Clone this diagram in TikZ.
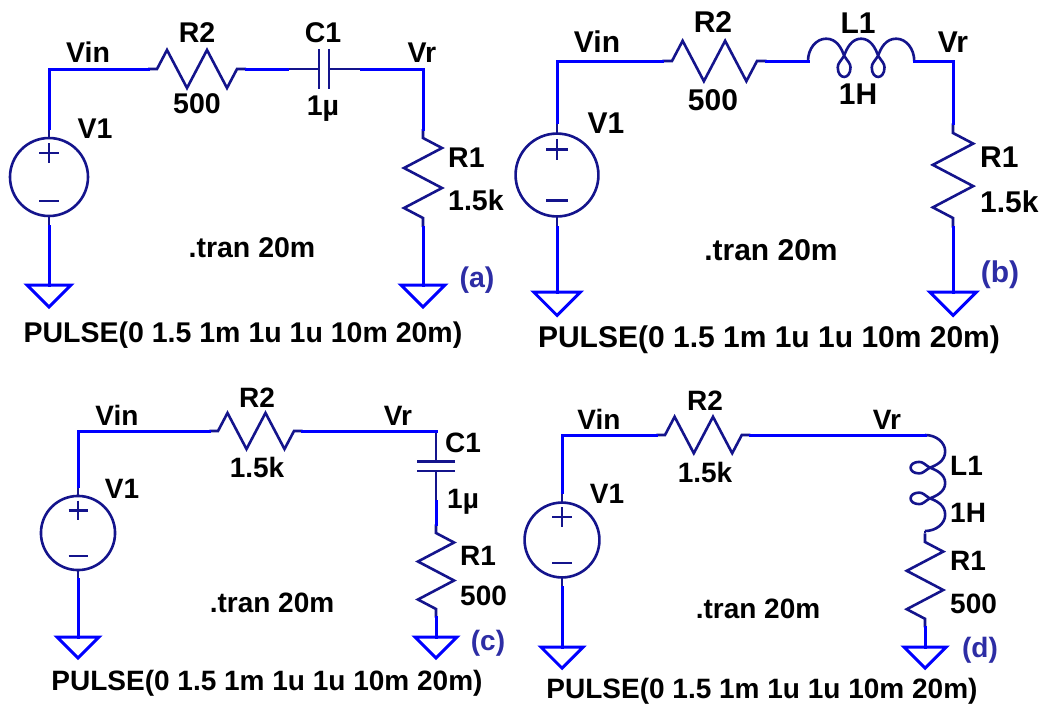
\documentclass[tikz,border=0pt]{standalone}
\usepackage{fontspec}
\setmainfont{Liberation Sans}
\usetikzlibrary{positioning}
\definecolor{wireblue}{RGB}{0,0,255}
\definecolor{navy}{RGB}{20,20,140}
\definecolor{tagblue}{RGB}{45,45,165}

\begin{document}
\begin{tikzpicture}[
    x=1pt, y=-1pt,
    % line styles
    wireline/.style = {draw=wireblue, line width=3pt, line cap=rect},
    partline/.style = {draw=navy, line width=2.6pt},
    % text styles
    txta/.style = {inner sep=0pt, text depth=0pt, text height=20.4pt,
      font=\bfseries\fontsize{28.5}{30}\selectfont},
    txtb/.style = {inner sep=0pt, text depth=0pt, text height=21.5pt,
      font=\bfseries\fontsize{30}{32}\selectfont},
    txtc/.style = {inner sep=0pt, text depth=0pt, text height=20pt,
      font=\bfseries\fontsize{28}{30}\selectfont},
    tag/.style = {text=tagblue},
    % symbols
    ressym/.pic = {
      \draw[partline] (-9,0) -- (0,0) -- (10,-19) -- (30,19) -- (50,-19)
        -- (70,19) -- (80,0) -- (89,0);
      \coordinate (-in) at (-9,0);
      \coordinate (-out) at (89,0);
    },
    capsym/.pic = {
      \draw[partline] (0,0) -- (32,0) (42,0) -- (74,0)
        (32,-20) -- (32,20) (42,-20) -- (42,20);
      \coordinate (-in) at (0,0);
      \coordinate (-out) at (74,0);
    },
    indsym/.pic = {
      \draw[partline] (0,0) .. controls (0,-11.5) and (7.6,-21) .. (17,-21)
        .. controls (27,-21) and (31.5,-12) .. (34,-5)
        .. controls (37,0) and (40,2) .. (40,6)
        .. controls (40,12) and (37,15) .. (34,15)
        .. controls (31,15) and (28,12) .. (28,6)
        .. controls (28,2) and (31,0) .. (34,-5)
        .. controls (36.5,-12) and (41,-21) .. (50,-21)
        .. controls (59,-21) and (63.5,-12) .. (66,-5)
        .. controls (69,0) and (72,2) .. (72,6)
        .. controls (72,12) and (69,15) .. (66,15)
        .. controls (63,15) and (60,12) .. (60,6)
        .. controls (60,2) and (63,0) .. (66,-5)
        .. controls (68.5,-12) and (73,-21) .. (83,-21)
        .. controls (92.4,-21) and (100,-11.5) .. (100,0);
      \coordinate (-in) at (0,0);
      \coordinate (-out) at (100,0);
    },
    srcsym/.pic = {
      \draw[partline] (0,0) circle[radius=39];
      \draw[partline] (0,-49) -- (0,-39) (0,39) -- (0,49);
      \draw[partline] (-10,-24) -- (10,-24) (0,-34) -- (0,-14)
        (-10,24) -- (10,24);
      \coordinate (-p) at (0,-49);
      \coordinate (-n) at (0,49);
    },
    gndsym/.pic = {
      \draw[wireline, line cap=butt] (-22,0) -- (22,0) -- (0,22) -- cycle;
      \coordinate (-top) at (0,0);
    }
  ]
  \useasboundingbox[fill=white] (0,0) rectangle (1044,705);

  % --- (a) R2 + C1 + R1
  \pic (Va) at (49,177) {srcsym};
  \pic (R2a) at (157,69) {ressym};
  \pic (C1a) at (287,69) {capsym};
  \pic[rotate=-90] (R1a) at (423,138) {ressym};
  \pic (GLa) at (49,285) {gndsym};
  \pic (GRa) at (423,285) {gndsym};
  \draw[wireline] (Va-p) |- (R2a-in);
  \draw[wireline] (R2a-out) -- (C1a-in);
  \draw[wireline] (C1a-out) -| (R1a-in);
  \draw[wireline] (R1a-out) -- (GRa-top);
  \draw[wireline] (Va-n) -- (GLa-top);

  \node[txta] (a-vin) at (88,52) {Vin};
  \node[txta] (a-r2) at (197,32) {R2};
  \node[txta] (a-r2val) at (197,103) {500};
  \node[txta] (a-c1) at (323,32) {C1};
  \node[txta] (a-c1val) at (323,105) {1µ};
  \node[txta] (a-vr) at (422,52) {Vr};
  \node[txta] (a-v1) at (95,128) {V1};
  \node[txta, anchor=west] (a-r1) at (448,157) {R1};
  \node[txta, anchor=west] (a-r1val) at (448,200) {1.5k};
  \node[txta] (a-tran) at (252,247) {.tran 20m};
  \node[txta, tag] (a-tag) at (477,277) {(a)};
  \node[txta] (a-pulse) at (243,332) {PULSE(0 1.5 1m 1u 1u 10m 20m)};

  % --- (b) R2 + L1 + R1
  \pic[scale=1.0625] (Vb) at (557,175) {srcsym};
  \pic[scale=1.0625] (R2b) at (672,61) {ressym};
  \pic[scale=1.0625] (L1b) at (808,61) {indsym};
  \pic[rotate=-90, scale=1.0625] (R1b) at (953,133) {ressym};
  \pic[scale=1.0625] (GLb) at (557,292) {gndsym};
  \pic[scale=1.0625] (GRb) at (953,292) {gndsym};
  \draw[wireline] (Vb-p) |- (R2b-in);
  \draw[wireline] (R2b-out) -- (L1b-in);
  \draw[wireline] (L1b-out) -| (R1b-in);
  \draw[wireline] (R1b-out) -- (GRb-top);
  \draw[wireline] (Vb-n) -- (GLb-top);

  \node[txtb] (b-vin) at (597,42) {Vin};
  \node[txtb] (b-r2) at (713,22) {R2};
  \node[txtb] (b-r2val) at (713,100) {500};
  \node[txtb] (b-l1) at (858,23) {L1};
  \node[txtb] (b-l1val) at (858,94) {1H};
  \node[txtb] (b-vr) at (953,42) {Vr};
  \node[txtb] (b-v1) at (606,123) {V1};
  \node[txtb, anchor=west] (b-r1) at (980,157) {R1};
  \node[txtb, anchor=west] (b-r1val) at (980,202) {1.5k};
  \node[txtb] (b-tran) at (771,250) {.tran 20m};
  \node[txtb, tag] (b-tag) at (1000,272) {(b)};
  \node[txtb] (b-pulse) at (769,337) {PULSE(0 1.5 1m 1u 1u 10m 20m)};

  % --- (c) R2 + C1 + R1, C1 in the right leg
  \pic[scale=.95] (Vc) at (78,533) {srcsym};
  \pic[scale=.95] (R2c) at (218,431) {ressym};
  \pic[rotate=-90, scale=.95] (C1c) at (436,431) {capsym};
  \pic[rotate=-90, scale=.95] (R1c) at (436,533) {ressym};
  \pic[scale=.95] (GLc) at (78,637) {gndsym};
  \pic[scale=.95] (GRc) at (436,637) {gndsym};
  \draw[wireline] (Vc-p) |- (R2c-in);
  \draw[wireline] (R2c-out) -| (C1c-in);
  \draw[wireline] (C1c-out) -- (R1c-in);
  \draw[wireline] (R1c-out) -- (GRc-top);
  \draw[wireline] (Vc-n) -- (GLc-top);

  \node[txtc] (c-vin) at (117,415) {Vin};
  \node[txtc] (c-r2) at (257,397) {R2};
  \node[txtc] (c-r2val) at (257,467) {1.5k};
  \node[txtc] (c-vr) at (398,415) {Vr};
  \node[txtc, anchor=west] (c-c1) at (445,442) {C1};
  \node[txtc, anchor=west] (c-c1val) at (447,498) {1µ};
  \node[txtc, anchor=west] (c-r1) at (460,555) {R1};
  \node[txtc, anchor=west] (c-r1val) at (460,595) {500};
  \node[txtc] (c-v1) at (122,488) {V1};
  \node[txtc] (c-tran) at (272,602) {.tran 20m};
  \node[txtc, tag] (c-tag) at (488,640) {(c)};
  \node[txtc] (c-pulse) at (267,680) {PULSE(0 1.5 1m 1u 1u 10m 20m)};

  % --- (d) R2 + L1 + R1, L1 in the right leg
  \pic[scale=.96] (Vd) at (562,540) {srcsym};
  \pic[scale=.96] (R2d) at (665,435) {ressym};
  \pic[rotate=-90, scale=.96] (L1d) at (925,435) {indsym};
  \pic[rotate=-90, scale=.96] (R1d) at (925,542) {ressym};
  \pic[scale=.96] (GLd) at (562,647) {gndsym};
  \pic[scale=.96] (GRd) at (925,647) {gndsym};
  \draw[wireline] (Vd-p) |- (R2d-in);
  \draw[wireline] (R2d-out) -| (L1d-in);
  \draw[partline] (L1d-out) -- (R1d-in);
  \draw[wireline] (R1d-out) -- (GRd-top);
  \draw[wireline] (Vd-n) -- (GLd-top);

  \node[txtc] (d-vin) at (599,419) {Vin};
  \node[txtc] (d-r2) at (705,400) {R2};
  \node[txtc] (d-r2val) at (705,472) {1.5k};
  \node[txtc] (d-vr) at (887,419) {Vr};
  \node[txtc, anchor=west] (d-l1) at (950,465) {L1};
  \node[txtc, anchor=west] (d-l1val) at (950,512) {1H};
  \node[txtc, anchor=west] (d-r1) at (950,560) {R1};
  \node[txtc, anchor=west] (d-r1val) at (950,603) {500};
  \node[txtc] (d-v1) at (607,493) {V1};
  \node[txtc] (d-tran) at (758,608) {.tran 20m};
  \node[txtc, tag] (d-tag) at (980,647) {(d)};
  \node[txtc] (d-pulse) at (762,688) {PULSE(0 1.5 1m 1u 1u 10m 20m)};

\end{tikzpicture}
\end{document}
